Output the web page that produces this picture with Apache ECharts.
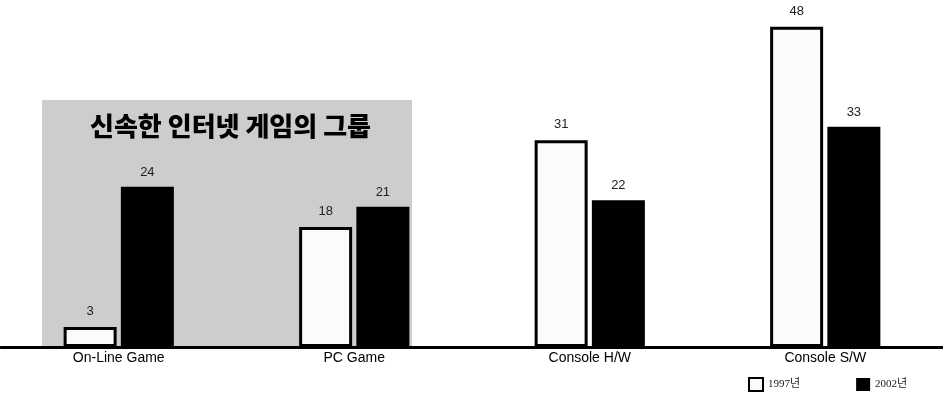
<!DOCTYPE html>
<html>
<head>
<meta charset="utf-8">
<script src="https://cdn.jsdelivr.net/npm/echarts@6/dist/echarts.min.js"></script>
<style>html,body{margin:0;padding:0;background:#fff;}#c{width:943px;height:403px;}</style>
</head>
<body>
<div id="c"></div>
<script>
var categories = ['On-Line Game', 'PC Game', 'Console H/W', 'Console S/W'];
var seriesNames = ['1997년', '2002년'];
var values1997 = [3, 18, 31, 48];
var values2002 = [24, 21, 22, 33];
var groupTitle = '신속한 인터넷 게임의 그룹';

var chart = echarts.init(document.getElementById('c'));
chart.setOption({
  backgroundColor: '#fff',
  animation: false,
  grid: { left: 1, width: 952, top: 0, bottom: 56 },
  graphic: [
    { type: 'rect', z: -10, shape: { x: 42, y: 100, width: 370, height: 246 }, style: { fill: '#cdcdcd' } },
    { type: 'text', z: 5, left: 90, top: 113, style: { text: groupTitle, fontSize: 26, fontWeight: 900, fill: '#000', fontFamily: 'Noto Sans CJK KR' } }
  ],
  legend: {
    left: 743, top: 372, itemWidth: 14, itemHeight: 13, itemGap: 56,
    textStyle: { fontSize: 11, color: '#222', fontFamily: 'Liberation Serif, Noto Sans CJK KR' },
    data: [
      { name: seriesNames[0], icon: 'rect' },
      { name: seriesNames[1], icon: 'rect' }
    ]
  },
  xAxis: {
    type: 'category', data: categories,
    axisLine: { lineStyle: { color: '#000', width: 3 } },
    axisTick: { show: false },
    axisLabel: { fontSize: 14, color: '#000', margin: 4, fontFamily: 'Liberation Sans, Arial' }
  },
  yAxis: { type: 'value', min: 0, max: 52, show: false, splitLine: { show: false } },
  series: [
    {
      name: seriesNames[0], type: 'bar', data: values1997, barWidth: 53, barGap: '8%',
      itemStyle: { color: '#fbfbfb', borderColor: '#000', borderWidth: 3 },
      label: { show: true, position: 'top', distance: 9, fontSize: 13, color: '#222', fontFamily: 'Liberation Sans, Arial' }
    },
    {
      name: seriesNames[1], type: 'bar', data: values2002, barWidth: 53,
      itemStyle: { color: '#000' },
      label: { show: true, position: 'top', distance: 8, fontSize: 13, color: '#222', fontFamily: 'Liberation Sans, Arial' }
    }
  ]
});
</script>
</body>
</html>
